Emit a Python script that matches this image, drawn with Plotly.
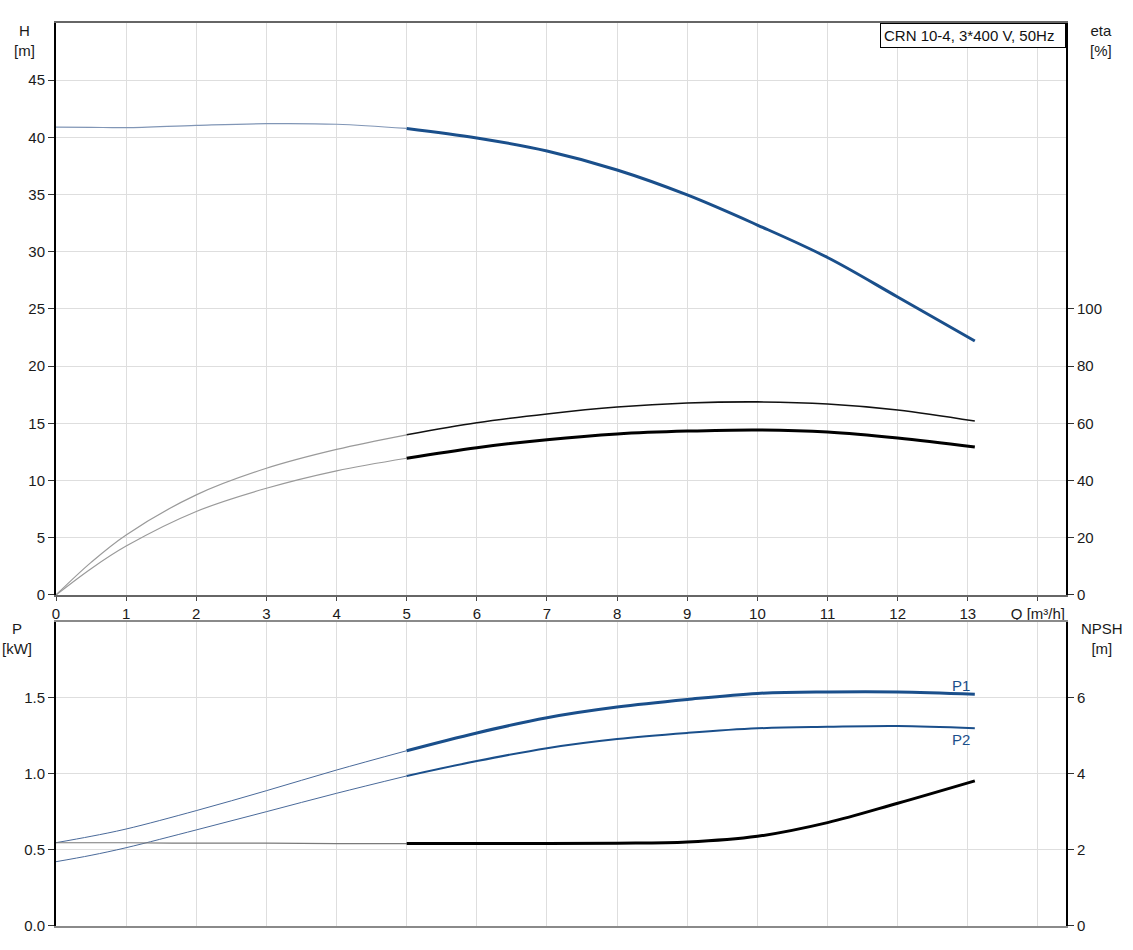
import plotly.graph_objects as go

# ---- data ----
Q = [0, 0.5, 1, 2, 3, 4, 5, 6, 7, 8, 9, 10, 11, 12, 13.1]
H = [40.9, 40.88, 40.85, 41.05, 41.2, 41.15, 40.78, 39.95, 38.81, 37.15, 34.97, 32.34, 29.5, 26.05, 22.2]
ETA_PUMP = [0, 11.4, 21.0, 35.0, 44.3, 50.9, 56.0, 60.2, 63.3, 65.7, 67.1, 67.5, 66.8, 64.7, 60.8]
ETA_TOTAL = [0, 9.2, 17.1, 29.2, 37.3, 43.4, 47.8, 51.5, 54.3, 56.3, 57.3, 57.7, 57.0, 54.9, 51.7]
P1 = [0.548, 0.59, 0.638, 0.759, 0.89, 1.026, 1.153, 1.27, 1.37, 1.44, 1.49, 1.53, 1.54, 1.54, 1.525]
P2 = [0.423, 0.465, 0.515, 0.632, 0.752, 0.873, 0.987, 1.085, 1.17, 1.23, 1.27, 1.30, 1.31, 1.315, 1.30]
NPSH = [2.19, 2.19, 2.19, 2.18, 2.18, 2.17, 2.17, 2.17, 2.17, 2.18, 2.21, 2.36, 2.72, 3.23, 3.82]
Q_SPLIT = 5  # duty range starts here

X_TICKS = [0, 1, 2, 3, 4, 5, 6, 7, 8, 9, 10, 11, 12, 13, 14]
X_TICKTEXT = ["0", "1", "2", "3", "4", "5", "6", "7", "8", "9", "10", "11", "12", "13", "Q [m³/h]"]
H_TICKS = [0, 5, 10, 15, 20, 25, 30, 35, 40, 45]
ETA_TICKS = [0, 20, 40, 60, 80, 100]
P_TICKS = [0.0, 0.5, 1.0, 1.5]
NPSH_TICKS = [0, 2, 4, 6]
TITLE_TEXT = "CRN 10-4, 3*400 V, 50Hz"

BLUE = "#1a4f8b"
FONT = "Liberation Sans, Arial, sans-serif"
FS = 15

i0 = Q.index(Q_SPLIT)


def seg(vals, thin):
    if thin:
        return Q[: i0 + 1], vals[: i0 + 1]
    return Q[i0:], vals[i0:]


fig = go.Figure()


def add(vals, xa, ya, thin_color, thin_w, thick_color, thick_w):
    x, y = seg(vals, True)
    fig.add_trace(go.Scatter(x=x, y=y, xaxis=xa, yaxis=ya, mode="lines",
                             line=dict(color=thin_color, width=thin_w, shape="spline"),
                             hoverinfo="skip", showlegend=False))
    x, y = seg(vals, False)
    fig.add_trace(go.Scatter(x=x, y=y, xaxis=xa, yaxis=ya, mode="lines",
                             line=dict(color=thick_color, width=thick_w, shape="spline"),
                             hoverinfo="skip", showlegend=False))


add(H, "x", "y", "#8196b6", 1.2, BLUE, 3)
add(ETA_PUMP, "x", "y2", "#9a9a9a", 1.2, "#111111", 1.6)
add(ETA_TOTAL, "x", "y2", "#9a9a9a", 1.2, "#000000", 3)
add(P1, "x2", "y3", "#4a6a9a", 1.0, BLUE, 3)
add(P2, "x2", "y3", "#4a6a9a", 1.0, BLUE, 2)
add(NPSH, "x2", "y4", "#7a7a7a", 1.2, "#000000", 3)

tickfont = dict(family=FONT, size=FS, color="#1a1a1a")
grid = "#dedede"
top_dom = [0.3666, 1.0]
bot_dom = [0.0, 0.3367]

fig.update_layout(
    width=1133, height=950,
    margin=dict(l=56, r=67, t=23, b=24),
    paper_bgcolor="white", plot_bgcolor="white",
    font=dict(family=FONT, size=FS, color="#1a1a1a"),
    xaxis=dict(domain=[0, 1], anchor="y", range=[0, 14.4], tickvals=X_TICKS, ticktext=X_TICKTEXT,
               showgrid=True, gridcolor=grid, gridwidth=1, zeroline=False,
               showline=True, linecolor="#666666", linewidth=2, mirror=True,
               ticks="outside", ticklen=4, tickcolor="#444444", tickfont=tickfont),
    xaxis2=dict(domain=[0, 1], anchor="y3", matches="x", range=[0, 14.4], tickvals=X_TICKS,
                showticklabels=False, showgrid=True, gridcolor=grid, gridwidth=1, zeroline=False,
                showline=True, linecolor="#8a8a8a", linewidth=2, mirror=True, ticks=""),
    yaxis=dict(domain=top_dom, anchor="x", range=[0, 50], tickvals=H_TICKS,
               showgrid=True, gridcolor=grid, gridwidth=1, zeroline=False,
               showline=True, linecolor="#000000", linewidth=2,
               ticks="outside", ticklen=6, tickcolor="#333333", tickfont=tickfont),
    yaxis2=dict(overlaying="y", side="right", anchor="x", range=[0, 200], tickvals=ETA_TICKS,
                showgrid=False, zeroline=False, showline=True, linecolor="#000000", linewidth=2,
                ticks="outside", ticklen=6, tickcolor="#333333", tickfont=tickfont),
    yaxis3=dict(domain=bot_dom, anchor="x2", range=[0, 2], tickvals=P_TICKS, tickformat=".1f",
                showgrid=True, gridcolor=grid, gridwidth=1, zeroline=False,
                showline=True, linecolor="#000000", linewidth=2,
                ticks="outside", ticklen=6, tickcolor="#333333", tickfont=tickfont),
    yaxis4=dict(overlaying="y3", side="right", anchor="x2", range=[0, 8], tickvals=NPSH_TICKS,
                showgrid=False, zeroline=False, showline=True, linecolor="#000000", linewidth=2,
                ticks="outside", ticklen=6, tickcolor="#333333", tickfont=tickfont),
)

def ptitle(text, x, y):
    fig.add_annotation(text=text, xref="paper", yref="paper", x=x, y=y,
                       xanchor="center", yanchor="middle", showarrow=False,
                       font=dict(family=FONT, size=FS, color="#1a1a1a"))

ptitle("H<br>[m]", -0.0307, 0.981)
ptitle("eta<br>[%]", 1.0347, 0.981)
ptitle("P<br>[kW]", -0.0386, 0.318)
ptitle("NPSH<br>[m]", 1.0356, 0.318)

fig.add_annotation(text=TITLE_TEXT, xref="paper", yref="paper", x=1, y=1,
                   xanchor="right", yanchor="top", showarrow=False, align="left",
                   font=dict(family=FONT, size=FS, color="#111111"),
                   bgcolor="white", bordercolor="#000000", borderwidth=1, borderpad=3,
                   width=178, height=17)

fig.add_annotation(text="P1", x=12.9, y=1.585, xref="x2", yref="y3", showarrow=False,
                   font=dict(family=FONT, size=FS, color=BLUE))
fig.add_annotation(text="P2", x=12.9, y=1.225, xref="x2", yref="y3", showarrow=False,
                   font=dict(family=FONT, size=FS, color=BLUE))

fig.write_html("out.html", config={"displayModeBar": False},
               post_script="document.body.style.margin='0';")
